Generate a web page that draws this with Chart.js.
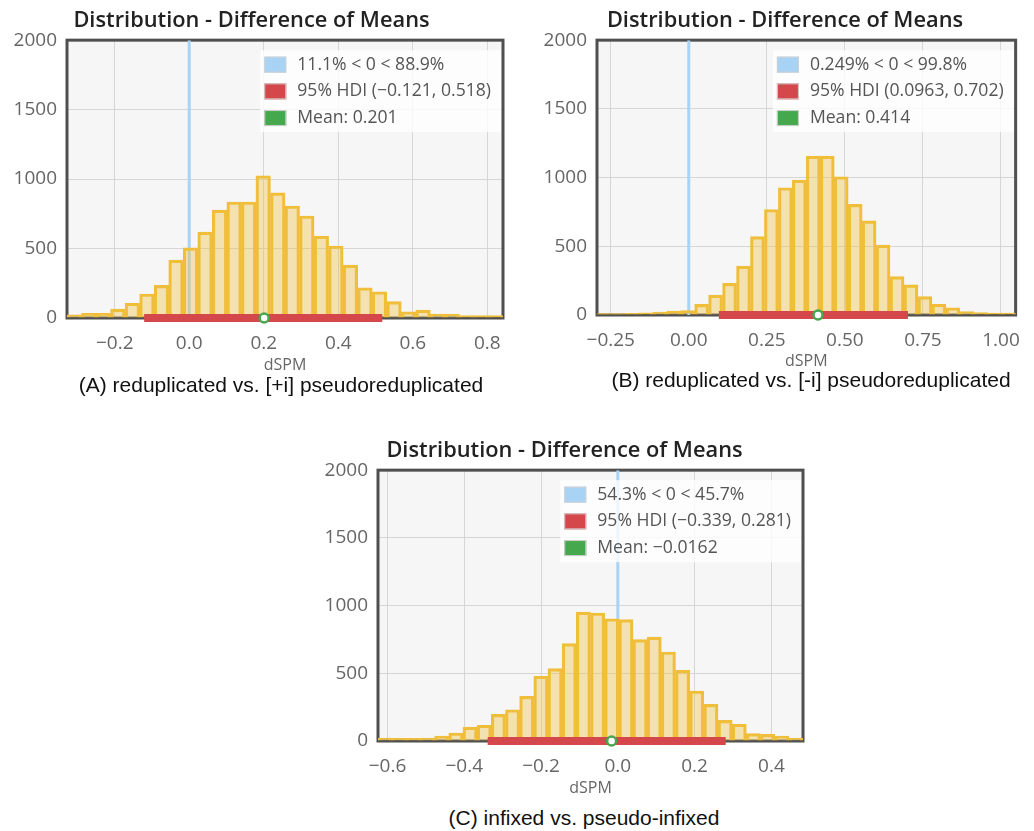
<!DOCTYPE html>
<html>
<head>
<meta charset="utf-8">
<script src="https://cdn.jsdelivr.net/npm/chart.js@4/dist/chart.umd.min.js"></script>
<style>
  body { margin: 0; background: #fff; width: 1034px; height: 831px; position: relative; overflow: hidden; }
  .box { position: absolute; }
  .cap { position: absolute; font-family: 'Liberation Sans', Arial, sans-serif; font-size: 21px; line-height: 24px;
         color: #111; white-space: nowrap; transform: translateX(-50%); }
</style>
</head>
<body>
<div class="box" style="left:0px;top:0px;width:519px;height:376px"><canvas id="chart-a"></canvas></div>
<div class="box" style="left:541px;top:0px;width:493px;height:372px"><canvas id="chart-b"></canvas></div>
<div class="box" style="left:324px;top:430px;width:486px;height:369px"><canvas id="chart-c"></canvas></div>
<div class="cap" style="left:281px;top:373px">(A) reduplicated vs. [+i] pseudoreduplicated</div>
<div class="cap" style="left:811px;top:368px">(B) reduplicated vs. [-i] pseudoreduplicated</div>
<div class="cap" style="left:584px;top:806px">(C) infixed vs. pseudo-infixed</div>
<script>
//shared texts / ticks
const chartTitle = 'Distribution - Difference of Means';
const axisTitle = 'dSPM';
const yTicks = [0, 500, 1000, 1500, 2000];

//(A) reduplicated vs. [+i] pseudoreduplicated
const binsA = [-0.3085, -0.2695, -0.2305, -0.1915, -0.1525, -0.1135, -0.0745, -0.0355, 0.0035, 0.0425,
               0.0815, 0.1205, 0.1595, 0.1985, 0.2375, 0.2765, 0.3155, 0.3545, 0.3935, 0.4325,
               0.4715, 0.5105, 0.5495, 0.5885, 0.6275, 0.6665, 0.7055, 0.7445, 0.7835, 0.8225];
const countsA = [22, 34, 34, 64, 106, 173, 235, 417, 505, 618,
                 776, 835, 835, 1024, 901, 806, 734, 589, 518, 381,
                 218, 189, 118, 45, 57, 29, 29, 17, 17, 17];
const rangeA = [-0.328, 0.842];
const xTicksA = [-0.2, 0.0, 0.2, 0.4, 0.6, 0.8];
const hdiA = [-0.121, 0.518];
const meanA = 0.201;
const legendA = ['11.1% < 0 < 88.9%', '95% HDI (\u22120.121, 0.518)', 'Mean: 0.201'];

//(B) reduplicated vs. [-i] pseudoreduplicated
const binsB = [-0.2717, -0.2270, -0.1823, -0.1376, -0.0929, -0.0482, -0.0035, 0.0412, 0.0859, 0.1306,
               0.1753, 0.2200, 0.2647, 0.3094, 0.3541, 0.3988, 0.4435, 0.4882, 0.5329, 0.5776,
               0.6223, 0.6670, 0.7117, 0.7564, 0.8011, 0.8458, 0.8905, 0.9352, 0.9799, 1.0246];
const countsB = [10, 10, 12, 15, 22, 28, 32, 77, 145, 230,
                 356, 570, 768, 926, 982, 1156, 1156, 1006, 805, 685,
                 509, 279, 219, 134, 78, 53, 24, 18, 14, 14];
const rangeB = [-0.294, 1.047];
const xTicksB = [-0.25, 0.0, 0.25, 0.5, 0.75, 1.0];
const hdiB = [0.0963, 0.702];
const meanB = 0.414;
const legendB = ['0.249% < 0 < 99.8%', '95% HDI (0.0963, 0.702)', 'Mean: 0.414'];

//(C) infixed vs. pseudo-infixed
const binsC = [-0.6063, -0.5694, -0.5325, -0.4956, -0.4587, -0.4218, -0.3849, -0.3480, -0.3111, -0.2742,
               -0.2373, -0.2004, -0.1635, -0.1266, -0.0897, -0.0528, -0.0159, 0.0210, 0.0579, 0.0948,
               0.1317, 0.1686, 0.2055, 0.2424, 0.2793, 0.3162, 0.3531, 0.3900, 0.4269, 0.4638];
const countsC = [22, 20, 20, 22, 37, 59, 103, 116, 197, 231,
                 330, 478, 534, 719, 952, 945, 903, 896, 749, 767,
                 657, 522, 369, 271, 152, 124, 54, 49, 37, 22];
const rangeC = [-0.6247, 0.4823];
const xTicksC = [-0.6, -0.4, -0.2, 0.0, 0.2, 0.4];
const hdiC = [-0.339, 0.281];
const meanC = -0.0162;
const legendC = ['54.3% < 0 < 45.7%', '95% HDI (\u22120.339, 0.281)', 'Mean: \u22120.0162'];

const zeroColor = '#a8d3f4';
const hdiColor = '#d4474a';
const meanColor = '#45a84d';

Chart.defaults.font.family = "'Open Sans', sans-serif";
Chart.defaults.color = '#666';

//plot background + dark frame (frame goes under the marks)
const frame = {
  id: 'frame',
  beforeDraw(chart) {
    const {ctx, chartArea: a} = chart;
    ctx.save();
    ctx.fillStyle = '#f6f6f6';
    ctx.fillRect(a.left, a.top, a.right - a.left, a.bottom - a.top);
    ctx.restore();
  },
  beforeDatasetsDraw(chart) {
    const {ctx, chartArea: a} = chart;
    ctx.save();
    ctx.strokeStyle = '#4f4f4f';
    ctx.lineWidth = 3;
    ctx.strokeRect(a.left, a.top, a.right - a.left, a.bottom - a.top);
    ctx.restore();
  }
};

//legend box in the top right corner of the plot
const boxLegend = {
  id: 'boxLegend',
  afterDatasetsDraw(chart, args, opts) {
    const {ctx, chartArea: a} = chart;
    const texts = opts.texts || [];
    ctx.save();
    ctx.font = "17.6px 'Open Sans'";
    const w = Math.max(...texts.map(t => ctx.measureText(t).width));
    const textLeft = a.right - 12 - w;
    const swLeft = textLeft - 33;
    ctx.fillStyle = 'rgba(255,255,255,0.8)';
    ctx.fillRect(swLeft - 4, a.top + 10, w + 47, 82);
    texts.forEach((t, i) => {
      const cy = a.top + 24.5 + i * 26.7;
      ctx.fillStyle = opts.colors[i];
      ctx.fillRect(swLeft, cy - 8, 22, 16);
      ctx.strokeStyle = '#d0d0d0';
      ctx.lineWidth = 1;
      ctx.strokeRect(swLeft + 0.5, cy - 7.5, 21, 15);
      ctx.fillStyle = '#555';
      ctx.textBaseline = 'middle';
      ctx.textAlign = 'left';
      ctx.fillText(t, textLeft, cy);
    });
    ctx.restore();
  }
};

function fmt(v, dec) {
  return (v < 0 ? '\u2212' : '') + Math.abs(v).toFixed(dec);
}

function histChart(id, bins, counts, range, xTicks, dec, hdi, mean, legendTexts, yWidth, padRight, xHeight) {
  const data = {
    datasets: [
      {
        type: 'bar',
        data: bins.map((b, i) => ({x: b, y: counts[i]})),
        backgroundColor: 'rgba(240, 195, 60, 0.38)',
        borderColor: '#f0be3a',
        borderWidth: 2.5,
        barPercentage: 1,
        categoryPercentage: 1,
        order: 2
      },
      {
        type: 'line',
        data: [{x: 0, y: 0}, {x: 0, y: 2000}],
        borderColor: zeroColor,
        borderWidth: 3,
        pointRadius: 0,
        order: 3
      },
      {
        type: 'line',
        data: [{x: hdi[0], y: 0}, {x: hdi[1], y: 0}],
        borderColor: hdiColor,
        borderWidth: 8,
        borderCapStyle: 'butt',
        pointRadius: 0,
        clip: false,
        order: 1
      },
      {
        type: 'scatter',
        data: [{x: mean, y: 0}],
        pointRadius: 4.5,
        pointBackgroundColor: '#fff',
        pointBorderColor: meanColor,
        pointBorderWidth: 2.5,
        clip: false,
        order: 0
      }
    ]
  };
  const config = {
    type: 'bar',
    data: data,
    plugins: [frame, boxLegend],
    options: {
      responsive: true,
      maintainAspectRatio: false,
      animation: false,
      layout: { padding: { left: 0, right: padRight, top: 0, bottom: 0 } },
      plugins: {
        legend: { display: false },
        tooltip: { enabled: false },
        title: {
          display: true,
          text: chartTitle,
          color: '#222',
          font: { size: 21.8, weight: '600' },
          padding: { top: 8, bottom: 6 }
        },
        boxLegend: { texts: legendTexts, colors: [zeroColor, hdiColor, meanColor] }
      },
      scales: {
        x: {
          type: 'linear',
          offset: false,
          min: range[0],
          max: range[1],
          afterBuildTicks: (s) => { s.ticks = xTicks.map(v => ({value: v})); },
          afterFit: (s) => { s.height = xHeight; },
          grid: { color: '#d6d6d6', drawTicks: false, offset: false },
          border: { display: false },
          ticks: { font: { size: 19 }, padding: 14, maxRotation: 0, callback: (v) => fmt(v, dec) },
          title: { display: true, text: axisTitle, color: '#666', font: { size: 16 }, padding: { top: 0, bottom: 1 } }
        },
        y: {
          min: 0,
          max: 2000,
          afterBuildTicks: (s) => { s.ticks = yTicks.map(v => ({value: v})); },
          afterFit: (s) => { s.width = yWidth; },
          grid: { color: '#d6d6d6', drawTicks: false },
          border: { display: false },
          ticks: { font: { size: 19 }, padding: 10, callback: (v) => String(v) }
        }
      }
    }
  };
  return new Chart(document.getElementById(id), config);
}

const ChartA = histChart('chart-a', binsA, countsA, rangeA, xTicksA, 1, hdiA, meanA, legendA, 67, 16, 58);
const ChartB = histChart('chart-b', binsB, countsB, rangeB, xTicksB, 2, hdiB, meanB, legendB, 56, 5, 57);
const ChartC = histChart('chart-c', binsC, countsC, rangeC, xTicksC, 1, hdiC, meanC, legendC, 54, 5, 58);
</script>
</body>
</html>
